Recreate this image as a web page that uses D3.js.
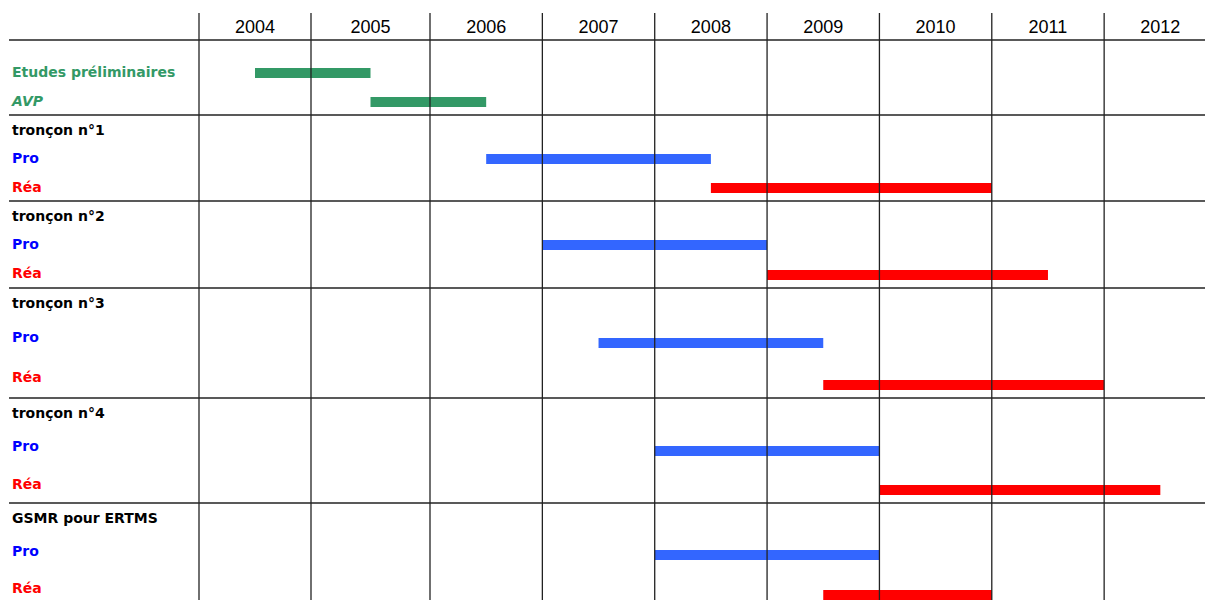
<!DOCTYPE html>
<html>
<head>
<meta charset="utf-8">
<script src="https://cdn.jsdelivr.net/npm/d3@7"></script>
<style>
    body { margin: 0; background: #fff; }
</style>
</head>
<body>
<div id="chart"></div>
<script>
// --- data ---
const years = [2004, 2005, 2006, 2007, 2008, 2009, 2010, 2011, 2012];

const rowLabels = ["", "Etudes préliminaires", "AVP",
    "tronçon n°1", "Pro", "Réa",
    "tronçon n°2", "Pro", "Réa",
    "tronçon n°3", "Pro", "Réa",
    "tronçon n°4", "Pro", "Réa",
    "GSMR pour ERTMS", "Pro", "Réa"];
const rowKinds = ["blank", "etude", "avp",
    "title", "pro", "rea",
    "title", "pro", "rea",
    "title", "pro", "rea",
    "title", "pro", "rea",
    "title", "pro", "rea"];

const taskRows   = [1, 2, 4, 5, 7, 8, 10, 11, 13, 14, 16, 17];
const taskStarts = [2004.5, 2005.5, 2006.5, 2008.5, 2007, 2009, 2007.5, 2009.5, 2008, 2010, 2008, 2009.5];
const taskEnds   = [2005.5, 2006.5, 2008.5, 2011, 2009, 2011.5, 2009.5, 2012, 2010, 2012.5, 2010, 2011];

// --- layout ---
const width = 1205, height = 600;
const headerTop = 13, headerBottom = 40;
const gridLeft = 9;
const rowHeights = [18, 28, 29, 29, 28, 29, 29, 28, 30, 30, 38, 42, 30, 36, 39, 30, 35, 40];
const rowBottoms = Array.from(d3.cumsum(rowHeights), d => d + headerBottom);
const rowTops = rowBottoms.map((b, i) => b - rowHeights[i]);

const kindColor = { etude: "#339966", avp: "#339966", title: "#000", pro: "#0000ff", rea: "#ff0000", blank: "#000" };
const barColor = { etude: "#339966", avp: "#339966", pro: "#3366ff", rea: "#ff0000" };

const x = d3.scaleLinear()
    .domain([2004, 2005, 2006, 2013])
    .range([199, 311, 430, 1216.5]);

const svg = d3.select("#chart").append("svg")
    .attr("width", width)
    .attr("height", height);

// bars
const tasks = taskRows.map((r, i) => ({ row: r, start: taskStarts[i], end: taskEnds[i] }));
svg.append("g")
    .selectAll("rect")
    .data(tasks)
    .enter()
    .append("rect")
    .attr("x", d => x(d.start))
    .attr("y", d => rowBottoms[d.row] - 13 - 5)
    .attr("width", d => x(d.end) - x(d.start))
    .attr("height", 10)
    .attr("fill", d => barColor[rowKinds[d.row]]);

// grid
const grid = svg.append("g")
    .attr("stroke", "#222")
    .attr("stroke-width", 1.3);

grid.selectAll("line.v")
    .data(years)
    .enter()
    .append("line")
    .attr("class", "v")
    .attr("x1", d => x(d))
    .attr("x2", d => x(d))
    .attr("y1", headerTop)
    .attr("y2", height);

const hLines = [headerBottom].concat(rowTops.filter((t, i) => rowKinds[i] === "title"));
grid.selectAll("line.h")
    .data(hLines)
    .enter()
    .append("line")
    .attr("class", "h")
    .attr("x1", gridLeft)
    .attr("x2", width)
    .attr("y1", d => d)
    .attr("y2", d => d);

// year header
svg.append("g")
    .selectAll("text")
    .data(years)
    .enter()
    .append("text")
    .attr("x", d => (x(d) + x(d + 1)) / 2)
    .attr("y", 33)
    .attr("text-anchor", "middle")
    .style("font-family", "'Liberation Sans', Arial, sans-serif")
    .style("font-size", "18px")
    .attr("fill", "#000")
    .text(d => d);

// row labels
svg.append("g")
    .selectAll("text")
    .data(rowLabels.map((l, i) => ({ label: l, kind: rowKinds[i], i: i })).filter(d => d.label))
    .enter()
    .append("text")
    .attr("x", 12)
    .attr("y", d => (rowTops[d.i] + rowBottoms[d.i]) / 2)
    .attr("dominant-baseline", "central")
    .style("font-family", "'Comic Sans MS', 'DejaVu Sans', sans-serif")
    .style("font-size", "14px")
    .style("font-weight", "bold")
    .style("font-style", d => d.kind === "avp" ? "italic" : "normal")
    .attr("fill", d => kindColor[d.kind])
    .text(d => d.label);
</script>
</body>
</html>
